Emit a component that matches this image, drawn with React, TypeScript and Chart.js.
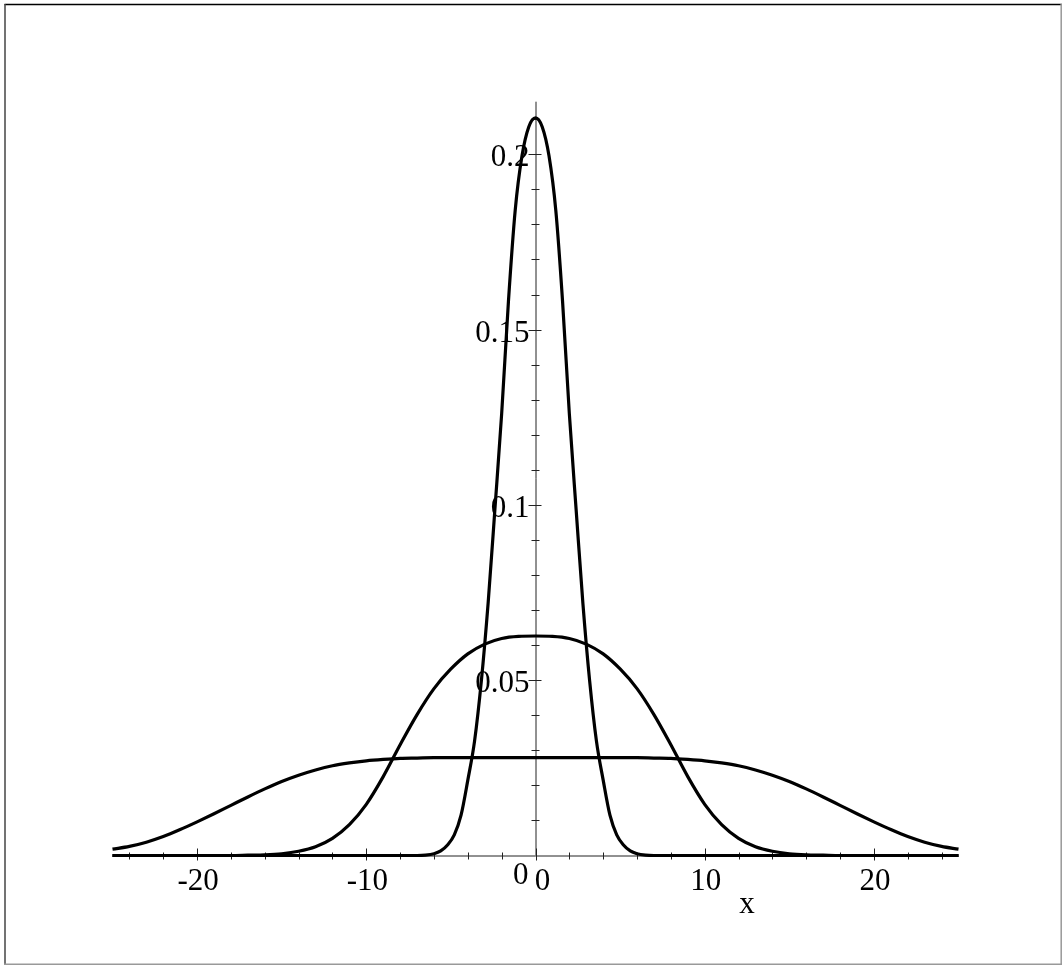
import React, { useEffect, useRef } from "react";
import { Chart, registerables } from "chart.js";

Chart.register(...registerables);

// Narrow curve
const narrowX = [-25, -7, -6.5, -6, -5.6, -5.2, -4.8, -4.4, -4, -3.6, -3.2, -2.8, -2.4, -2, -1.6, -1.2, -0.8, -0.4, 0, 0.4, 0.8, 1.2, 1.6, 2, 2.4, 2.8, 3.2, 3.6, 4, 4.4, 4.8, 5.2, 5.6, 6, 6.5, 7, 25];
const narrowY = [0, 0, 0.0001, 0.0005, 0.0013, 0.003, 0.0059, 0.0115, 0.0215, 0.0327, 0.0498, 0.072, 0.0987, 0.126, 0.158, 0.184, 0.1995, 0.2078, 0.2104, 0.2078, 0.1995, 0.184, 0.158, 0.126, 0.0987, 0.072, 0.0498, 0.0327, 0.0215, 0.0115, 0.0059, 0.003, 0.0013, 0.0005, 0.0001, 0, 0];

// Medium curve
const mediumX = [-25, -18, -17, -16, -15, -14, -13, -12, -11, -10, -9, -8, -7, -6, -5, -4, -3, -2, -1, 0, 1, 2, 3, 4, 5, 6, 7, 8, 9, 10, 11, 12, 13, 14, 15, 16, 17, 18, 25];
const mediumY = [0, 0, 0.0001, 0.0002, 0.0005, 0.0012, 0.0025, 0.0049, 0.0088, 0.0146, 0.0225, 0.0316, 0.0402, 0.0476, 0.0532, 0.0575, 0.0603, 0.0619, 0.0625, 0.0626, 0.0625, 0.0619, 0.0603, 0.0575, 0.0532, 0.0476, 0.0402, 0.0316, 0.0225, 0.0146, 0.0088, 0.0049, 0.0025, 0.0012, 0.0005, 0.0002, 0.0001, 0, 0];

// Wide curve
const wideX = [-25, -24, -23, -22, -21, -20, -19, -18, -17, -16, -15, -14, -13, -12, -11, -10, -9, -8, -7, -6, 0, 6, 7, 8, 9, 10, 11, 12, 13, 14, 15, 16, 17, 18, 19, 20, 21, 22, 23, 24, 25];
const wideY = [0.0018, 0.0026, 0.0038, 0.0054, 0.0074, 0.0096, 0.0119, 0.0143, 0.0167, 0.019, 0.0211, 0.0229, 0.0244, 0.0256, 0.0264, 0.027, 0.0274, 0.0277, 0.0278, 0.0279, 0.0279, 0.0279, 0.0278, 0.0277, 0.0274, 0.027, 0.0264, 0.0256, 0.0244, 0.0229, 0.0211, 0.019, 0.0167, 0.0143, 0.0119, 0.0096, 0.0074, 0.0054, 0.0038, 0.0026, 0.0018];

const xMajorTicks = [-20, -10, 0, 10, 20];
const xMajorLabels = ["-20", "-10", "0", "10", "20"];
const xMinorTicks = [-24, -22, -18, -16, -14, -12, -8, -6, -4, -2, 2, 4, 6, 8, 12, 14, 16, 18, 22, 24];
const yMajorTicks = [0.05, 0.1, 0.15, 0.2];
const yMajorLabels = ["0.05", "0.1", "0.15", "0.2"];
const yMinorTicks = [0.01, 0.02, 0.03, 0.04, 0.06, 0.07, 0.08, 0.09, 0.11, 0.12, 0.13, 0.14, 0.16, 0.17, 0.18, 0.19, 0.21];
const xAxisTitle = "x";
const xAxisTitleAt = 12.5;

const toPoints = (xs: number[], ys: number[]) => xs.map((x, i) => ({ x, y: ys[i] }));

const FONT = "31px 'Liberation Serif', 'Times New Roman', serif";

const axesPlugin = {
  id: "mapleAxes",
  beforeDatasetsDraw(chart: any) {
    const ctx = chart.ctx;
    const xs = chart.scales.x;
    const ys = chart.scales.y;
    const x0 = xs.getPixelForValue(0);
    const y0 = ys.getPixelForValue(0);
    ctx.save();
    // frame
    ctx.lineWidth = 1.5;
    ctx.strokeStyle = "#000";
    ctx.beginPath();
    ctx.moveTo(4.5, 4.5);
    ctx.lineTo(1062, 4.5);
    ctx.stroke();
    ctx.strokeStyle = "#444";
    ctx.beginPath();
    ctx.moveTo(5, 4);
    ctx.lineTo(5, 965);
    ctx.stroke();
    ctx.lineWidth = 1.5;
    ctx.strokeStyle = "#999";
    ctx.beginPath();
    ctx.moveTo(1061.2, 4);
    ctx.lineTo(1061.2, 965);
    ctx.moveTo(4, 964.2);
    ctx.lineTo(1062, 964.2);
    ctx.stroke();

    // axes lines
    ctx.strokeStyle = "#222";
    ctx.lineWidth = 1;
    ctx.beginPath();
    ctx.moveTo(xs.getPixelForValue(-25), y0 + 0.5);
    ctx.lineTo(xs.getPixelForValue(25), y0 + 0.5);
    ctx.moveTo(x0 + 0.5, y0);
    ctx.lineTo(x0 + 0.5, ys.getPixelForValue(ys.max));
    ctx.stroke();

    // ticks
    ctx.beginPath();
    xMajorTicks.forEach((v) => {
      const p = Math.round(xs.getPixelForValue(v)) + 0.5;
      ctx.moveTo(p, y0 - 7);
      ctx.lineTo(p, y0 + 5);
    });
    xMinorTicks.forEach((v) => {
      const p = Math.round(xs.getPixelForValue(v)) + 0.5;
      ctx.moveTo(p, y0 - 3);
      ctx.lineTo(p, y0 + 4);
    });
    yMajorTicks.forEach((v) => {
      const p = Math.round(ys.getPixelForValue(v)) + 0.5;
      ctx.moveTo(x0 - 7, p);
      ctx.lineTo(x0 + 6, p);
    });
    yMinorTicks.forEach((v) => {
      const p = Math.round(ys.getPixelForValue(v)) + 0.5;
      ctx.moveTo(x0 - 4, p);
      ctx.lineTo(x0 + 4, p);
    });
    ctx.stroke();

    // labels
    ctx.fillStyle = "#000";
    ctx.font = FONT;
    ctx.textBaseline = "alphabetic";
    ctx.textAlign = "center";
    xMajorTicks.forEach((v, i) => {
      const p = xs.getPixelForValue(v);
      const off = v === 0 ? 7 : 1;
      ctx.fillText(xMajorLabels[i], p + off, y0 + 34);
    });
    ctx.fillText(xAxisTitle, xs.getPixelForValue(xAxisTitleAt), y0 + 57);
    ctx.textAlign = "right";
    yMajorTicks.forEach((v, i) => {
      const p = ys.getPixelForValue(v);
      ctx.fillText(yMajorLabels[i], x0 - 6, p + 12);
    });
    ctx.fillText("0", x0 - 7, y0 + 28);
    ctx.restore();
  },
};

export default function App() {
  const ref = useRef<HTMLCanvasElement | null>(null);
  useEffect(() => {
    if (!ref.current) return;
    const common = {
      borderColor: "#000",
      borderWidth: 3.2,
      pointRadius: 0,
      fill: false,
      cubicInterpolationMode: "monotone" as const,
      clip: false as any,
    };
    const chart = new Chart(ref.current, {
      type: "line",
      data: {
        datasets: [
          { ...common, label: "narrow", data: toPoints(narrowX, narrowY) },
          { ...common, label: "medium", data: toPoints(mediumX, mediumY) },
          { ...common, label: "wide", data: toPoints(wideX, wideY) },
        ],
      },
      options: {
        animation: false,
        responsive: false,
        maintainAspectRatio: false,
        events: [],
        layout: { padding: { left: 112.5, right: 103.5, top: 101.7, bottom: 109.5 } },
        plugins: { legend: { display: false }, tooltip: { enabled: false }, title: { display: false } },
        scales: {
          x: { type: "linear", min: -25, max: 25, display: false },
          y: { type: "linear", min: 0, max: 0.215, display: false },
        },
      },
      plugins: [axesPlugin],
    });
    return () => chart.destroy();
  }, []);
  return (
    <div style={{ position: "fixed", left: 0, top: 0, width: 1062, height: 965, background: "#fff" }}>
      <canvas ref={ref} width={1062} height={965} style={{ display: "block", width: 1062, height: 965 }} />
    </div>
  );
}
